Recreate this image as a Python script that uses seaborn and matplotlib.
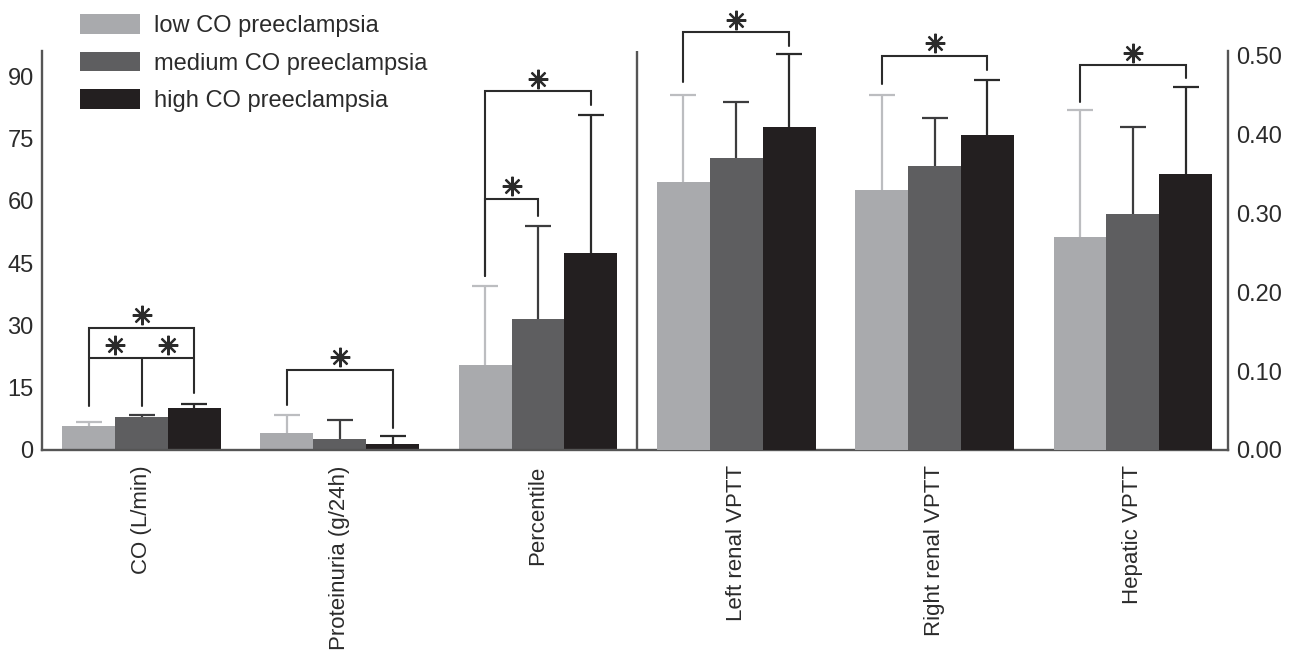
import numpy as np
import pandas as pd
import seaborn as sns
import matplotlib.pyplot as plt
import matplotlib.transforms as mtransforms
from matplotlib.patches import Patch
from matplotlib.container import BarContainer

# data (mean and upper SD)
metrics = ['CO (L/min)', 'Proteinuria (g/24h)', 'Percentile',
           'Left renal VPTT', 'Right renal VPTT', 'Hepatic VPTT']
groups = ['low CO preeclampsia', 'medium CO preeclampsia', 'high CO preeclampsia']
low_mean = [5.7, 4.0, 20.5, 0.34, 0.33, 0.27]
low_sd = [1.0, 4.4, 19.0, 0.11, 0.12, 0.161]
medium_mean = [7.9, 2.7, 31.6, 0.37, 0.36, 0.30]
medium_sd = [0.5, 4.5, 22.3, 0.071, 0.061, 0.11]
high_mean = [10.1, 1.4, 47.5, 0.41, 0.40, 0.35]
high_sd = [1.0, 2.0, 33.1, 0.092, 0.070, 0.111]

left_ticks = [0, 15, 30, 45, 60, 75, 90]
right_ticks = [0.0, 0.1, 0.2, 0.3, 0.4, 0.5]

# significance brackets: metric, from group, to group, height, left leg end, right leg end
brackets = [
    (0, 0, 2, 29.5, 10.6, 13.7),
    (0, 0, 2, 22.2, 22.2, 22.2),
    (1, 0, 2, 19.3, 10.8, 5.4),
    (2, 0, 2, 86.4, 41.9, 83.2),
    (2, 0, 1, 60.5, 41.9, 56.3),
    (3, 0, 2, 0.530, 0.467, 0.513),
    (4, 0, 2, 0.500, 0.465, 0.482),
    (5, 0, 2, 0.488, 0.441, 0.472),
]
# extra leg: metric, group, top, bottom
legs = [(0, 1, 22.2, 10.6)]
# stars: metric, between group a and b, bracket height
stars = [(0, 0, 2, 29.5), (0, 0, 1, 22.2), (0, 1, 2, 22.2), (1, 0, 2, 19.3),
         (2, 0, 2, 86.4), (2, 0, 1, 60.5),
         (3, 0, 2, 0.530), (4, 0, 2, 0.500), (5, 0, 2, 0.488)]

colors = ['#a9aaad', '#5e5e60', '#231f20']
err_colors = ['#bcbdc0', '#3c3c3e', '#2a2a2a']
ink = '#2b2b2b'
spine_c = '#555555'

rows = []
for g, m_list, s_list in zip(groups, [low_mean, medium_mean, high_mean], [low_sd, medium_sd, high_sd]):
    for i, met in enumerate(metrics):
        rows.append({'metric': met, 'group': g, 'value': m_list[i], 'sd': s_list[i],
                     'side': 'left' if i < 3 else 'right'})
df = pd.DataFrame(rows)

sns.set_style('white')
plt.rcParams['font.family'] = ['Liberation Sans', 'DejaVu Sans']

fig = plt.figure(figsize=(12.93, 6.55), dpi=100)
ax1 = fig.add_axes([42 / 1293, 205 / 655, 1186 / 1293, 399 / 655])
ax2 = ax1.twinx()

sides = [(ax1, 'left'), (ax2, 'right')]
centers = {}
for ax, side in sides:
    sns.barplot(data=df[df.side == side], x='metric', y='value', hue='group',
                order=metrics, hue_order=groups, palette=colors, errorbar=None,
                width=0.8, saturation=1, linewidth=0, legend=False, ax=ax)
    bar_conts = [c for c in ax.containers if isinstance(c, BarContainer)]
    for j, cont in enumerate(bar_conts):
        for bar in cont:
            h = bar.get_height()
            if not np.isfinite(h):
                continue
            xc = bar.get_x() + bar.get_width() / 2
            i = int(round(xc))
            centers[(i, j)] = xc
            sd = df[(df.metric == metrics[i]) & (df.group == groups[j])].sd.iloc[0]
            eb = ax.errorbar(xc, h, yerr=[[0], [sd]], fmt='none', ecolor=err_colors[j],
                             elinewidth=1.6, capsize=9.7, capthick=1.6, zorder=3)
            # upper cap only
            for cap in eb[1]:
                if np.isclose(cap.get_ydata()[0], h):
                    cap.set_visible(False)

for i, a, b, y, y1, y2 in brackets:
    ax = ax1 if i < 3 else ax2
    xa, xb = centers[(i, a)], centers[(i, b)]
    ax.plot([xa, xa, xb, xb], [y1, y, y, y2], color=ink, lw=1.5,
            clip_on=False, solid_joinstyle='miter', zorder=4)
for i, g, y_top, y_bot in legs:
    ax = ax1 if i < 3 else ax2
    ax.plot([centers[(i, g)]] * 2, [y_top, y_bot], color=ink, lw=1.5, clip_on=False, zorder=4)
for i, a, b, y in stars:
    ax = ax1 if i < 3 else ax2
    tr = mtransforms.offset_copy(ax.transData, fig=fig, x=0, y=9, units='points')
    ax.plot((centers[(i, a)] + centers[(i, b)]) / 2, y, marker=(8, 2, 0), ms=14,
            mew=1.6, color=ink, transform=tr, clip_on=False, zorder=5)

ax1.axvline(2.5, color=spine_c, lw=1.7, zorder=2)

ax1.set_xlim(-0.502, 5.48)
ax1.set_ylim(0, 96.1)
ax2.set_ylim(0, 0.5063)
ax1.set_yticks(left_ticks)
ax2.set_yticks(right_ticks)
ax2.set_yticklabels([f'{t:.2f}' for t in right_ticks])
ax1.set_xticks(range(len(metrics)))
ax1.set_xticklabels(metrics, rotation=90, va='top', ha='center')
ax1.set_xlabel('')
ax1.set_ylabel('')
ax2.set_ylabel('')

ax1.tick_params(axis='x', length=0, pad=11, labelsize=16, labelcolor=ink)
ax1.tick_params(axis='y', length=0, pad=6, labelsize=17, labelcolor=ink)
ax2.tick_params(axis='y', length=0, pad=6, labelsize=17, labelcolor=ink)

for ax in (ax1, ax2):
    ax.spines['top'].set_visible(False)
    for s in ('left', 'right', 'bottom'):
        ax.spines[s].set_color(spine_c)
        ax.spines[s].set_linewidth(1.7)
ax1.spines['right'].set_visible(False)
ax2.spines['left'].set_visible(False)
ax2.spines['bottom'].set_visible(False)

handles = [Patch(facecolor=c, edgecolor='none') for c in colors]
ax1.legend(handles, groups, loc='upper left', bbox_to_anchor=(80 / 1293, 1 - 14 / 655),
           bbox_transform=fig.transFigure, frameon=False, fontsize=17,
           handlelength=2.55, handleheight=0.9, handletextpad=0.6,
           labelspacing=0.62, borderpad=0, borderaxespad=0, labelcolor=ink)

fig.savefig('out.png', dpi=100)
